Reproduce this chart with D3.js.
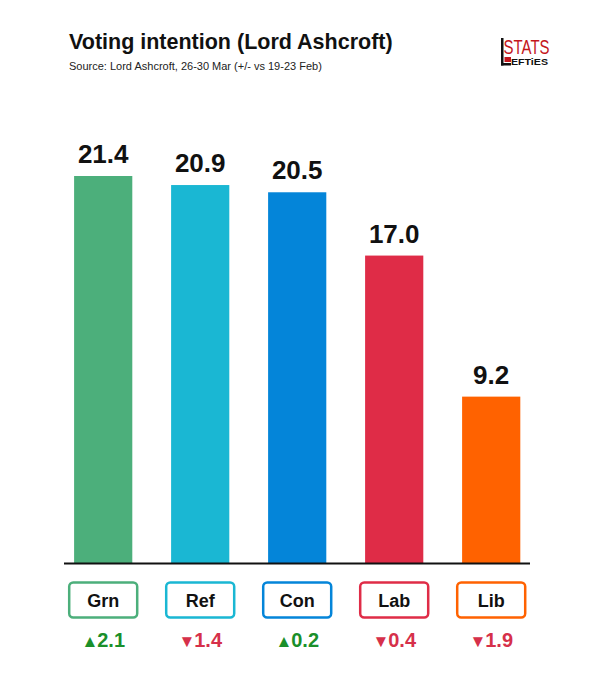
<!DOCTYPE html>
<html lang="en">
  <head>
    <meta charset="UTF-8" />
    <script src="https://d3js.org/d3.v7.min.js"></script>
    <title>Voting intention</title>
    <style>
      body { margin: 0; background: #fff; }
      text { font-family: "Liberation Sans", Arial, sans-serif; }
    </style>
  </head>
  <body>
    <div id="chart"></div>
    <script>
      var parties = ["Grn", "Ref", "Con", "Lab", "Lib"];
      var shares = [21.4, 20.9, 20.5, 17.0, 9.2];
      var changes = [2.1, -1.4, 0.2, -0.4, -1.9];
      var colours = ["#4caf7b", "#1ab7d3", "#0485d9", "#df2c47", "#ff6200"];

      var width = 611,
        height = 680,
        baseY = 563;

      var svg = d3.select("#chart").append("svg")
        .attr("width", width)
        .attr("height", height);

      // title block
      svg.append("text").attr("x", 69).attr("y", 49)
        .attr("font-size", 21.5).attr("font-weight", "bold").attr("fill", "#111")
        .text("Voting intention (Lord Ashcroft)");
      svg.append("text").attr("x", 69).attr("y", 70)
        .attr("font-size", 11).attr("fill", "#222")
        .text("Source: Lord Ashcroft, 26-30 Mar (+/- vs 19-23 Feb)");

      // logo
      var narrow = "'Liberation Sans Narrow', 'DejaVu Sans Condensed', sans-serif";
      var logo = svg.append("g").attr("transform", "translate(501,38)");
      logo.append("rect").attr("x", 0).attr("y", 0).attr("width", 2.5).attr("height", 27.5).attr("fill", "#111");
      logo.append("rect").attr("x", 0).attr("y", 25).attr("width", 10).attr("height", 2.5).attr("fill", "#111");
      logo.append("text").attr("x", 2.5).attr("y", 15.5)
        .attr("font-size", 19.5).attr("fill", "#c4161c")
        .attr("font-family", narrow)
        .attr("textLength", 46).attr("lengthAdjust", "spacingAndGlyphs")
        .text("STATS");
      logo.append("rect").attr("x", 3.5).attr("y", 19).attr("width", 6.5).attr("height", 5).attr("fill", "#c4161c");
      logo.append("text").attr("x", 10).attr("y", 27)
        .attr("font-size", 9).attr("font-weight", "bold").attr("fill", "#111")
        .attr("font-family", narrow)
        .attr("textLength", 37).attr("lengthAdjust", "spacingAndGlyphs")
        .text("EFTiES");

      var x = d3.scaleBand()
        .domain(parties)
        .range([45, 549.4])
        .paddingInner(0.4)
        .paddingOuter(0.3);

      var y = d3.scaleLinear()
        .domain([0, 21.4])
        .range([baseY, 176]);

      var bars = svg.selectAll("g.bar")
        .data(parties)
        .enter()
        .append("g")
        .attr("class", "bar");

      bars.append("rect")
        .attr("x", function (d) { return x(d); })
        .attr("y", function (d, i) { return y(shares[i]); })
        .attr("width", x.bandwidth())
        .attr("height", function (d, i) { return baseY - y(shares[i]); })
        .attr("fill", function (d, i) { return colours[i]; });

      bars.append("text")
        .attr("x", function (d) { return x(d) + x.bandwidth() / 2; })
        .attr("y", function (d, i) { return y(shares[i]) - 13; })
        .attr("text-anchor", "middle")
        .attr("font-size", 26).attr("font-weight", "bold").attr("fill", "#111")
        .text(function (d, i) { return shares[i].toFixed(1); });

      svg.append("line")
        .attr("x1", 64).attr("x2", 530)
        .attr("y1", baseY + 0.5).attr("y2", baseY + 0.5)
        .attr("stroke", "#111").attr("stroke-width", 2);

      // party label boxes
      bars.append("rect")
        .attr("x", function (d) { return x(d) + x.bandwidth() / 2 - 34; })
        .attr("y", 582.5)
        .attr("width", 68).attr("height", 35).attr("rx", 4)
        .attr("fill", "#fff")
        .attr("stroke", function (d, i) { return colours[i]; })
        .attr("stroke-width", 2.5);

      bars.append("text")
        .attr("x", function (d) { return x(d) + x.bandwidth() / 2; })
        .attr("y", 607)
        .attr("text-anchor", "middle")
        .attr("font-size", 18).attr("font-weight", "bold").attr("fill", "#111")
        .text(function (d) { return d; });

      // change vs previous poll
      bars.append("text")
        .attr("x", function (d) { return x(d) + x.bandwidth() / 2; })
        .attr("y", 646.5)
        .attr("text-anchor", "middle")
        .attr("font-weight", "bold")
        .attr("fill", function (d, i) { return changes[i] >= 0 ? "#1a8f2a" : "#d6304a"; })
        .each(function (d, i) {
          var t = d3.select(this);
          t.append("tspan").attr("font-size", 17)
            .text(changes[i] >= 0 ? "\u25B2" : "\u25BC");
          t.append("tspan").attr("font-size", 20).attr("dx", -1)
            .text(Math.abs(changes[i]).toFixed(1));
        });
    </script>
  </body>
</html>
